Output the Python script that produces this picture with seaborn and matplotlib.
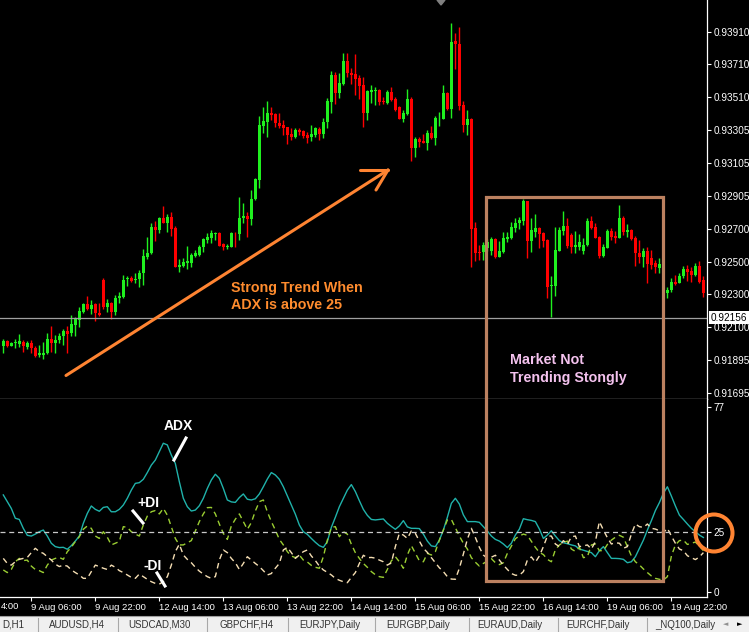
import numpy as np
import pandas as pd
import matplotlib
matplotlib.use("Agg")
import matplotlib.pyplot as plt
import matplotlib.transforms as mtrans
from matplotlib.patches import Rectangle, Circle, Polygon
import seaborn as sns

plt.rcParams['font.family'] = ['Liberation Sans', 'DejaVu Sans']

# ---------------- data (prices in points, 1 point = 0.00001) ----------------
open_pts = [91980, 92014, 91984, 92000, 91994, 92010, 91975, 92004, 91973, 91928,
            91928, 91939, 92025, 92004, 92020, 92045, 92076, 92065, 92112, 92143,
            92194, 92241, 92210, 92241, 92188, 92388, 92219, 92245, 92194, 92276,
            92282, 92392, 92402, 92388, 92392, 92429, 92531, 92552, 92715, 92691,
            92766, 92735, 92776, 92705, 92470, 92474, 92490, 92494, 92535, 92541,
            92588, 92633, 92644, 92670, 92678, 92609, 92588, 92592, 92678, 92670,
            92766, 92780, 92760, 92883, 93001, 93332, 93359, 93414, 93404, 93348,
            93338, 93324, 93283, 93267, 93308, 93301, 93277, 93263, 93277, 93314,
            93283, 93355, 93481, 93645, 93532, 93590, 93730, 93659, 93651, 93624,
            93583, 93410, 93542, 93549, 93553, 93487, 93475, 93542, 93498, 93446,
            93375, 93406, 93498, 93199, 93252, 93240, 93230, 93287, 93261, 93379,
            93375, 93536, 93434, 93853, 93835, 93461, 93338, 93375, 92705, 92562,
            92562, 92582, 92566, 92637, 92531, 92562, 92637, 92648, 92709, 92735,
            92752, 92872, 92629, 92684, 92705, 92678, 92633, 92351, 92351, 92568,
            92688, 92719, 92664, 92592, 92592, 92568, 92603, 92752, 92715, 92654,
            92535, 92586, 92690, 92658, 92648, 92770, 92684, 92695, 92648, 92556,
            92531, 92566, 92521, 92490, 92460, 92490, 92306, 92327, 92378, 92372,
            92409, 92456, 92445, 92419, 92474, 92388]
high_pts = [92025, 92020, 92010, 92025, 92057, 92020, 92016, 92020, 91984, 91990,
            92010, 92065, 92106, 92051, 92065, 92086, 92106, 92174, 92159, 92219,
            92249, 92290, 92266, 92249, 92245, 92398, 92270, 92255, 92296, 92311,
            92419, 92413, 92409, 92429, 92449, 92576, 92650, 92735, 92752, 92776,
            92842, 92793, 92807, 92719, 92515, 92521, 92597, 92556, 92572, 92603,
            92644, 92674, 92695, 92684, 92680, 92617, 92607, 92684, 92684, 92899,
            92862, 92807, 92940, 93011, 93393, 93451, 93485, 93451, 93410, 93410,
            93369, 93328, 93318, 93318, 93318, 93308, 93297, 93338, 93328, 93324,
            93379, 93506, 93669, 93665, 93659, 93781, 93777, 93685, 93773, 93645,
            93634, 93553, 93583, 93569, 93557, 93508, 93553, 93573, 93508, 93455,
            93430, 93557, 93512, 93267, 93267, 93283, 93308, 93332, 93393, 93420,
            93583, 93542, 93961, 93900, 93937, 93487, 93430, 93379, 92746, 92603,
            92623, 92637, 92654, 92643, 92627, 92684, 92684, 92746, 92766, 92776,
            92882, 92874, 92770, 92793, 92715, 92684, 92637, 92413, 92715, 92715,
            92811, 92766, 92674, 92690, 92668, 92643, 92766, 92780, 92735, 92658,
            92609, 92699, 92705, 92688, 92848, 92780, 92731, 92699, 92658, 92633,
            92582, 92592, 92572, 92511, 92521, 92494, 92343, 92398, 92419, 92429,
            92474, 92480, 92466, 92490, 92507, 92409]
low_pts = [91943, 91975, 91980, 91969, 91975, 91949, 91963, 91943, 91918, 91918,
           91902, 91935, 91949, 91943, 92000, 91990, 91943, 92045, 92045, 92102,
           92184, 92204, 92180, 92139, 92168, 92208, 92194, 92147, 92174, 92245,
           92276, 92351, 92378, 92368, 92343, 92358, 92515, 92548, 92629, 92674,
           92735, 92684, 92658, 92466, 92439, 92466, 92454, 92470, 92527, 92535,
           92562, 92617, 92617, 92633, 92595, 92572, 92576, 92588, 92588, 92633,
           92740, 92654, 92725, 92879, 92954, 93291, 93267, 93369, 93328, 93318,
           93277, 93220, 93246, 93256, 93277, 93256, 93230, 93242, 93267, 93246,
           93256, 93318, 93414, 93465, 93502, 93583, 93634, 93590, 93522, 93496,
           93324, 93369, 93471, 93461, 93461, 93465, 93465, 93485, 93426, 93373,
           93359, 93400, 93120, 93144, 93201, 93226, 93185, 93250, 93216, 93332,
           93373, 93430, 93379, 93679, 93430, 93297, 93277, 92466, 92507, 92511,
           92511, 92568, 92541, 92521, 92527, 92556, 92623, 92637, 92684, 92699,
           92725, 92525, 92562, 92654, 92582, 92592, 92276, 92159, 92290, 92568,
           92664, 92582, 92556, 92556, 92572, 92547, 92596, 92699, 92643, 92525,
           92531, 92582, 92633, 92613, 92643, 92664, 92654, 92633, 92474, 92494,
           92470, 92372, 92453, 92429, 92433, 92296, 92276, 92317, 92357, 92368,
           92398, 92382, 92378, 92413, 92368, 92286]
close_pts = [92014, 91980, 92004, 92010, 92014, 91980, 92004, 91969, 91922, 91939,
             91943, 92025, 92000, 92020, 92045, 92076, 92057, 92118, 92147, 92198,
             92241, 92210, 92235, 92184, 92174, 92219, 92245, 92194, 92276, 92290,
             92388, 92402, 92384, 92396, 92429, 92535, 92556, 92715, 92691, 92766,
             92735, 92776, 92701, 92470, 92480, 92496, 92501, 92541, 92552, 92592,
             92637, 92650, 92678, 92678, 92597, 92588, 92597, 92678, 92674, 92766,
             92780, 92760, 92883, 93005, 93338, 93363, 93410, 93400, 93348, 93332,
             93322, 93277, 93263, 93308, 93297, 93271, 93261, 93283, 93318, 93283,
             93359, 93485, 93645, 93532, 93598, 93730, 93655, 93645, 93620, 93579,
             93410, 93547, 93553, 93553, 93481, 93477, 93542, 93491, 93430, 93375,
             93414, 93498, 93199, 93252, 93236, 93226, 93287, 93256, 93383, 93383,
             93532, 93434, 93847, 93835, 93455, 93338, 93375, 92701, 92552, 92552,
             92603, 92623, 92637, 92527, 92566, 92643, 92654, 92711, 92739, 92756,
             92872, 92629, 92695, 92705, 92670, 92629, 92347, 92357, 92572, 92695,
             92719, 92596, 92592, 92603, 92623, 92603, 92752, 92709, 92648, 92535,
             92588, 92690, 92654, 92643, 92770, 92684, 92695, 92639, 92552, 92527,
             92566, 92484, 92480, 92466, 92486, 92306, 92327, 92378, 92364, 92413,
             92456, 92439, 92419, 92474, 92378, 92306]

adx = [40.3, 37.5, 34.7, 30.6, 30.1, 26.4, 23.5, 23.2, 24.0, 25.0,
       25.7, 23.2, 20.2, 18.8, 18.4, 18.5, 17.7, 19.2, 21.1, 23.2,
       28.5, 32.6, 35.7, 34.3, 33.5, 35.1, 35.4, 33.3, 33.3, 34.3,
       36.1, 38.9, 42.3, 45.1, 45.4, 46.8, 49.6, 52.7, 54.8, 58.3,
       61.8, 61.1, 56.9, 53.4, 45.8, 38.9, 35.4, 33.6, 34.0, 35.8,
       38.9, 43.0, 46.5, 48.9, 47.2, 43.0, 38.2, 37.4, 37.2, 39.2,
       40.7, 38.5, 38.2, 38.7, 40.7, 43.7, 46.9, 49.6, 48.6, 46.8,
       43.7, 39.9, 36.1, 32.3, 27.8, 25.0, 23.9, 22.2, 20.6, 19.2,
       18.5, 20.9, 26.8, 31.0, 35.4, 38.9, 42.3, 44.6, 41.7, 37.9,
       34.3, 31.8, 30.1, 29.9, 30.1, 30.3, 28.5, 27.2, 26.0, 27.4,
       29.6, 27.0, 26.4, 26.4, 26.3, 24.0, 21.1, 19.1, 18.8, 21.5,
       25.7, 31.0, 36.8, 38.9, 36.5, 32.0, 29.2, 29.2, 29.2, 28.9,
       27.1, 25.3, 23.2, 21.8, 21.1, 19.9, 18.4, 20.2, 23.6, 26.1,
       30.4, 30.0, 29.7, 29.2, 26.1, 22.2, 23.6, 25.4, 23.2, 21.3,
       20.4, 20.0, 19.5, 19.1, 17.8, 17.3, 16.8, 16.3, 14.6, 17.1,
       18.8, 16.3, 13.9, 13.9, 13.8, 13.5, 12.1, 12.5, 14.6, 18.1,
       21.5, 25.7, 29.6, 33.8, 37.1, 41.0, 43.7, 39.8, 35.7, 31.9,
       30.1, 28.2, 26.4, 25.0, 23.6, 22.6]
plus_di = [9.1, 8.0, 9.3, 12.5, 13.9, 13.0, 13.2, 10.7, 9.3, 8.8,
           8.0, 11.1, 13.2, 13.9, 14.3, 13.5, 16.7, 18.5, 20.9, 22.9,
           26.0, 27.4, 26.4, 23.2, 22.2, 25.0, 22.7, 19.5, 20.2, 20.9,
           27.1, 26.8, 25.0, 24.0, 23.2, 27.8, 31.5, 33.3, 33.8, 32.4,
           34.7, 31.9, 27.1, 22.2, 19.5, 19.5, 20.4, 21.3, 25.3, 29.2,
           32.4, 35.0, 35.1, 32.4, 28.2, 24.3, 21.8, 27.4, 30.2, 32.4,
           29.2, 26.0, 28.8, 33.6, 37.5, 38.2, 33.3, 29.2, 25.7, 21.8,
           19.5, 16.7, 14.9, 14.2, 15.3, 13.2, 12.4, 11.0, 10.2, 9.8,
           14.6, 21.5, 26.8, 27.1, 22.9, 25.0, 24.0, 19.8, 16.3, 13.9,
           11.8, 10.2, 8.4, 7.1, 6.3, 6.0, 9.3, 12.9, 14.6, 12.5,
           9.8, 15.3, 19.2, 16.0, 12.9, 12.5, 16.0, 15.3, 16.7, 21.5,
           25.7, 29.9, 30.1, 26.7, 23.2, 20.2, 17.8, 14.2, 12.3, 10.7,
           11.8, 12.8, 13.8, 12.1, 11.3, 12.1, 16.0, 19.0, 22.1, 23.2,
           24.0, 23.5, 21.0, 18.5, 16.4, 15.5, 13.5, 12.5, 17.5, 19.5,
           20.5, 21.1, 17.8, 16.8, 18.5, 14.2, 14.6, 19.5, 19.9, 17.1,
           17.1, 19.7, 21.5, 22.7, 23.5, 22.7, 18.8, 14.9, 12.5, 11.2,
           9.5, 8.0, 6.6, 5.6, 5.2, 4.9, 6.3, 14.9, 19.5, 21.3,
           21.5, 19.7, 20.2, 20.7, 19.0, 17.1]
minus_di = [13.9, 11.8, 11.1, 12.5, 13.5, 13.9, 14.3, 16.3, 18.1, 16.7,
            16.0, 14.6, 13.2, 11.5, 10.5, 11.1, 10.7, 9.1, 8.0, 7.0,
            5.6, 5.6, 8.4, 11.1, 10.5, 9.8, 9.3, 11.1, 10.2, 8.8,
            8.0, 7.0, 6.0, 5.6, 7.4, 6.3, 5.2, 4.2, 3.5, 3.2,
            4.2, 6.3, 11.1, 16.7, 19.8, 15.3, 13.5, 12.1, 10.2, 8.6,
            7.4, 6.3, 5.6, 6.3, 13.2, 17.4, 16.3, 13.9, 12.1, 9.3,
            11.8, 14.6, 13.2, 11.8, 10.5, 8.8, 7.0, 7.6, 9.8, 11.8,
            17.4, 18.5, 16.3, 13.9, 15.3, 16.7, 17.4, 14.9, 13.0, 10.7,
            9.1, 8.1, 7.0, 5.6, 4.8, 4.2, 3.8, 6.0, 8.0, 11.8,
            15.2, 14.2, 14.3, 14.0, 13.2, 12.5, 11.1, 12.1, 18.8, 24.3,
            23.6, 22.2, 25.3, 24.3, 21.1, 18.1, 16.4, 14.2, 12.1, 10.0,
            8.4, 6.3, 5.3, 5.2, 9.8, 15.7, 21.9, 26.4, 22.6, 18.5,
            15.3, 13.9, 14.4, 15.2, 13.2, 11.1, 9.3, 7.6, 6.9, 6.9,
            8.4, 13.2, 14.5, 12.3, 14.9, 18.8, 23.2, 23.2, 19.9, 18.8,
            21.3, 19.7, 22.9, 23.2, 18.8, 19.1, 19.5, 17.8, 20.9, 29.2,
            25.7, 22.5, 19.9, 20.4, 20.2, 18.1, 18.8, 24.0, 28.2, 27.1,
            26.8, 28.2, 26.4, 26.1, 25.4, 24.6, 26.4, 23.2, 20.2, 17.8,
            17.1, 15.0, 14.2, 13.4, 14.5, 16.3]

price_ticks = [0.93910, 0.93710, 0.93510, 0.93305, 0.93105, 0.92905,
               0.92700, 0.92500, 0.92300, 0.92100, 0.91895, 0.91695]
bid_price = 0.92156
adx_ticks = [0, 25, 77]
adx_level = 25
time_tick_bars = [7, 23, 39, 55, 71, 87, 103, 119, 135, 151, 167]
time_tick_labels = ["9 Aug 06:00", "9 Aug 22:00", "12 Aug 14:00", "13 Aug 06:00",
                    "13 Aug 22:00", "14 Aug 14:00", "15 Aug 06:00", "15 Aug 22:00",
                    "16 Aug 14:00", "19 Aug 06:00", "19 Aug 22:00"]
partial_time_label = "4:00"
tab_labels = ["D,H1", "AUDUSD,H4", "USDCAD,M30", "GBPCHF,H4", "EURJPY,Daily",
              "EURGBP,Daily", "EURAUD,Daily", "EURCHF,Daily", "_NQ100,Daily"]

# ---------------- figure ----------------
W, H = 749, 632
fig = plt.figure(figsize=(W / 100, H / 100), dpi=100, facecolor='black')


def fr(x0, y0, x1, y1):
    return [x0 / W, 1 - y1 / H, (x1 - x0) / W, (y1 - y0) / H]


ax = fig.add_axes(fr(0, 0, 707, 399))
axi = fig.add_axes(fr(0, 399, 707, 597))
for a in (ax, axi):
    a.set_facecolor('black')
    for s in ('left', 'top'):
        a.spines[s].set_visible(False)
    for s in ('right', 'bottom'):
        a.spines[s].set_color('white')
        a.spines[s].set_linewidth(0.9)
    a.grid(False)

GREEN = '#1FF01F'
RED = '#FF0000'
df = pd.DataFrame({'bar': np.arange(len(open_pts)),
                   'open': np.array(open_pts) / 1e5, 'high': np.array(high_pts) / 1e5,
                   'low': np.array(low_pts) / 1e5, 'close': np.array(close_pts) / 1e5})
up = df['close'] >= df['open']
cols = np.where(up, GREEN, RED)
ax.vlines(df['bar'], df['low'], df['high'], colors=cols, lw=1.0)
body_lo = np.minimum(df['open'], df['close'])
body_h = np.maximum((df['close'] - df['open']).abs(), 0.000014)
ax.bar(df['bar'], body_h, bottom=body_lo, width=0.8, color=cols, linewidth=0)

ax.axhline(bid_price, color='#A0A0A0', lw=0.9)
ax.set_xlim(-0.825, 175.9)
ax.set_ylim(0.91658, 0.94104)
ax.set_xticks([])
ax.yaxis.tick_right()
ax.set_yticks(price_ticks)
ax.set_yticklabels([f"{p:.5f}" for p in price_ticks])
ax.tick_params(axis='y', colors='white', length=3, width=0.8, pad=1.5, labelsize=7.2)

trans = mtrans.blended_transform_factory(ax.transAxes, ax.transData)
ax.text(1.0 + 3.5 / 707, bid_price, f"{bid_price:.5f}", transform=trans, ha='left',
        va='center', color='black', fontsize=7.2, clip_on=False,
        bbox=dict(boxstyle='square,pad=0.15', fc='white', ec='none'))

# ---------------- indicator (seaborn) ----------------
ind = pd.DataFrame({'bar': df['bar'], 'ADX': adx, 'PDI': plus_di, 'MDI': minus_di})
sns.lineplot(data=ind, x='bar', y='ADX', ax=axi, color='#20B2AA', lw=1.0, errorbar=None)
sns.lineplot(data=ind, x='bar', y='PDI', ax=axi, color='#9ACD32', lw=1.0,
             ls=(0, (4, 3)), errorbar=None)
sns.lineplot(data=ind, x='bar', y='MDI', ax=axi, color='#F5DEB3', lw=1.0,
             ls=(0, (4, 3)), errorbar=None)
axi.axhline(adx_level, color='#C8C8C8', lw=0.9, ls=(0, (4, 3)))
axi.set_xlim(-0.825, 175.9)
axi.set_ylim(-2.16, 80.2)
axi.set_xlabel('')
axi.set_ylabel('')
axi.yaxis.tick_right()
axi.set_yticks(adx_ticks)
axi.set_yticklabels([str(t) for t in adx_ticks])
axi.tick_params(axis='y', colors='white', length=3, width=0.8, pad=1.5, labelsize=7.2)
axi.set_xticks(time_tick_bars)
axi.set_xticklabels(time_tick_labels, ha='left')
axi.tick_params(axis='x', colors='white', length=3, width=0.8, pad=1.0, labelsize=6.8)

# ---------------- overlay annotations (pixel coordinates) ----------------
ov = fig.add_axes([0, 0, 1, 1])
ov.set_xlim(0, W)
ov.set_ylim(H, 0)
ov.axis('off')
ov.patch.set_alpha(0)

ORANGE = '#FF8432'
ov.plot([66, 388], [375.5, 170], color=ORANGE, lw=2.2, solid_capstyle='round')
ov.plot([360, 388], [170, 170], color=ORANGE, lw=2.2, solid_capstyle='round')
ov.plot([388, 376], [170, 190], color=ORANGE, lw=2.2, solid_capstyle='round')
ov.text(231, 288, "Strong Trend When", color='#FF8C2E', fontsize=10.3,
        fontweight='bold', ha='left', va='center')
ov.text(231, 305, "ADX is above 25", color='#FF8C2E', fontsize=10.3,
        fontweight='bold', ha='left', va='center')

ov.add_patch(Rectangle((485.5, 196.5), 177, 384, fill=False, ec='#BC8160', lw=2.3))
ov.text(510, 360, "Market Not", color='#F4C2EE', fontsize=10.3,
        fontweight='bold', ha='left', va='center')
ov.text(510, 378, "Trending Stongly", color='#F4C2EE', fontsize=10.3,
        fontweight='bold', ha='left', va='center')

ov.text(164, 426, "ADX", color='white', fontsize=10, fontweight='bold', ha='left', va='center')
ov.plot([186, 174], [438, 460], color='white', lw=2.2)
ov.text(137, 503, "+DI", color='white', fontsize=10, fontweight='bold', ha='left', va='center')
ov.plot([133, 143], [511, 523], color='white', lw=2.2)
ov.text(144, 566, "-DI", color='white', fontsize=10, fontweight='bold', ha='left', va='center')
ov.plot([157, 165], [573, 586], color='white', lw=2.2)

ov.add_patch(Circle((714, 533), 18.5, fill=False, ec=ORANGE, lw=2.9))
ov.add_patch(Polygon([(437, 0), (445, 0), (441, 5)], closed=True, color='#808080'))

ov.text(0.5, 606.5, partial_time_label, color='white', fontsize=6.8, ha='left', va='center')

# tab bar
ov.add_patch(Rectangle((0, 616), W, 16, fc='#F0F0F0', ec='none'))
ov.plot([0, W], [616, 616], color='#A0A0A0', lw=0.8)
tab_x = [2, 49, 128, 219, 299, 386, 477, 566, 655]
sep_x = [38, 118, 207, 288, 375, 469, 558, 647]
for tx, lab in zip(tab_x, tab_labels):
    ov.text(tx, 624.5, lab, color='#333333', fontsize=7, ha='left', va='center')
for sx in sep_x:
    ov.plot([sx, sx], [618, 631], color='#A8A8A8', lw=0.8)
ov.text(726, 624.5, "\u25C4", color='#909090', fontsize=5, ha='center', va='center',
        family='DejaVu Sans')
ov.text(740, 624.5, "\u25BA", color='black', fontsize=5, ha='center', va='center',
        family='DejaVu Sans')

fig.savefig('out.png', dpi=100, facecolor='black')
